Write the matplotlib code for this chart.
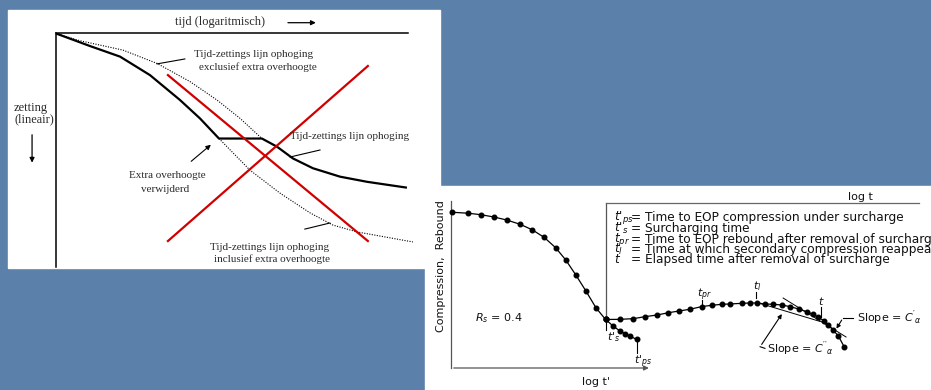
import matplotlib
matplotlib.use('Agg')
import matplotlib.pyplot as plt
from matplotlib.patches import Rectangle

plt.rcParams['mathtext.fontset'] = 'custom'
plt.rcParams['mathtext.it'] = 'DejaVu Sans:italic'
plt.rcParams['mathtext.rm'] = 'DejaVu Sans'

# ---------------- data: panel 1 (schematic, x = log time, y = settlement) -------------
ophoging_x = [0, 9.7, 18.2, 26.7, 35.2, 40.9, 46.3, 58.5, 62.8, 67.3, 73.0, 80.7, 88.4, 99.7]
ophoging_y = [0.2, 5.6, 10.1, 18.0, 28.6, 36.5, 45.1, 45.1, 48.6, 53.6, 57.8, 61.4, 63.6, 66.1]
exclusief_x = [0, 6.8, 19.0, 28.7, 38.1, 45.7, 52.3, 58.5]
exclusief_y = [0.2, 3.3, 7.3, 13.0, 20.8, 28.6, 36.5, 45.1]
inclusief_x = [46.3, 55.1, 63.6, 72.2, 78.7, 85.5, 101.4]
inclusief_y = [45.1, 58.6, 68.4, 76.9, 82.1, 85.0, 89.3]
red_a_x = [31.8, 88.6]
red_a_y = [18.0, 88.9]
red_b_x = [31.8, 88.6]
red_b_y = [88.9, 14.1]

# ---------------- data: panel 2 (x = log t', y = compression) -------------
main_x = [0.15, 3.6, 6.25, 8.96, 11.6, 14.4, 16.9, 19.4, 21.8, 23.9, 26.0, 28.1, 30.2, 32.2]
main_y = [5.6, 6.2, 7.1, 8.5, 10.3, 12.9, 16.2, 20.8, 27.1, 34.5, 43.6, 53.3, 63.5, 70.6]
surch_x = [32.2, 33.75, 35.2, 36.25, 37.3, 38.65]
surch_y = [70.6, 74.5, 77.6, 79.1, 80.6, 82.7]
rebound_x = [32.2, 35.2, 38.0, 40.4, 42.9, 45.3, 47.4, 49.8, 52.2, 54.3, 56.4, 58.1, 60.6,
             62.3, 63.7, 65.4, 67.1, 68.9, 70.6, 72.4, 74.1, 75.5, 76.5, 77.7, 78.6, 79.6,
             80.7, 81.9]
rebound_y = [70.6, 70.5, 70.1, 68.9, 67.9, 66.5, 65.5, 64.4, 62.8, 62.0, 61.4, 61.2, 60.8,
             60.6, 60.6, 61.2, 61.4, 61.8, 62.8, 64.2, 65.9, 67.5, 69.3, 71.3, 73.9, 77.0,
             80.6, 87.1]
slope1_x = [69.2, 82.3]
slope1_y = [57.6, 81.2]
slope2_x = [63.75, 76.9]
slope2_y = [60.3, 71.8]

legend_sym = [r"$t$'$_{ps}$", r"$t$'$_{s}$", r"$t_{pr}$", r"$t_{l}$", r"$t$"]
legend_txt = ["= Time to EOP compression under surcharge",
              "= Surcharging time",
              "= Time to EOP rebound after removal of surcharge",
              "= Time at which secondary compression reappears",
              "= Elapsed time after removal of surcharge"]
legend_y = [8.5, 15.6, 22.2, 28.0, 34.5]

W, H = 931, 390
fig = plt.figure(figsize=(W / 100, H / 100), dpi=100)

bg = fig.add_axes([0, 0, 1, 1])
bg.set_xlim(0, W)
bg.set_ylim(H, 0)
bg.axis('off')
bg.add_patch(Rectangle((0, 0), W, H, color='#5b80aa', zorder=0))
bg.add_patch(Rectangle((8, 10), 432, 258, color='white', zorder=1))
bg.add_patch(Rectangle((425, 186), 506, 204, color='white', zorder=2))


def fig_ax(l, t, r, b):
    a = fig.add_axes([l / W, 1 - b / H, (r - l) / W, (b - t) / H])
    a.set_facecolor('none')
    a.set_xlim(0, 100)
    a.set_ylim(100, 0)
    a.set_xticks([])
    a.set_yticks([])
    return a

# ---------------- panel 1 -------------
ax1 = fig_ax(56, 33, 408, 267)
for s in ['right', 'bottom']:
    ax1.spines[s].set_visible(False)
for s in ['left', 'top']:
    ax1.spines[s].set_linewidth(1.1)

ax1.plot(ophoging_x, ophoging_y, color='black', lw=1.6, solid_capstyle='butt',
         solid_joinstyle='round')
ax1.plot(exclusief_x, exclusief_y, color='black', lw=0.8, ls=(0, (1.0, 1.3)))
ax1.plot(inclusief_x, inclusief_y, color='black', lw=0.8, ls=(0, (1.0, 1.3)), clip_on=False)
ax1.plot(red_a_x, red_a_y, color='#d10000', lw=1.6)
ax1.plot(red_b_x, red_b_y, color='#d10000', lw=1.6)

serif = dict(family='Liberation Serif', fontsize=8.0, color='#2a2a2a')
big_serif = dict(serif, fontsize=8.9)
ax1.text(46.6, -4.8, 'tijd (logaritmisch)', ha='center', va='center', clip_on=False, **big_serif)
ax1.annotate('', xy=(74.6, -4.4), xytext=(65.1, -4.4), annotation_clip=False,
             arrowprops=dict(arrowstyle='-|>', color='black', lw=0.9, mutation_scale=7))
ax1.text(-11.9, 32.2, 'zetting', ha='left', va='center', clip_on=False, **big_serif)
ax1.text(-11.9, 36.8, '(lineair)', ha='left', va='center', clip_on=False, **big_serif)
ax1.annotate('', xy=(-6.8, 56.6), xytext=(-6.8, 42.3), annotation_clip=False,
             arrowprops=dict(arrowstyle='-|>', color='black', lw=0.9, mutation_scale=7))

ax1.text(56.1, 9.0, 'Tijd-zettings lijn ophoging', ha='center', va='center', **serif)
ax1.text(57.3, 14.5, 'exclusief extra overhoogte', ha='center', va='center', **serif)
ax1.plot([28.7, 36.6], [13.2, 11.1], color='black', lw=0.8)

ax1.text(83.3, 44.4, 'Tijd-zettings lijn ophoging', ha='center', va='center', **serif)
ax1.plot([66.5, 75.0], [53.0, 50.0], color='black', lw=0.8)

ax1.text(31.7, 61.1, 'Extra overhoogte', ha='center', va='center', **serif)
ax1.text(31.0, 66.7, 'verwijderd', ha='center', va='center', **serif)
ax1.annotate('', xy=(44.6, 47.0), xytext=(37.8, 55.6),
             arrowprops=dict(arrowstyle='-|>', color='black', lw=0.8, mutation_scale=7))

ax1.text(60.8, 91.5, 'Tijd-zettings lijn ophoging', ha='center', va='center', **serif)
ax1.text(61.4, 96.6, 'inclusief extra overhoogte', ha='center', va='center', **serif)
ax1.plot([70.7, 77.8], [83.8, 81.2], color='black', lw=0.8)

# ---------------- panel 2 -------------
ax2 = fig_ax(451, 203, 931, 368)
ax2.axis('off')
gray = '#555555'
ax2.plot([0, 0], [-1.5, 100], color=gray, lw=0.9, clip_on=False)
ax2.annotate('', xy=(41.8, 100), xytext=(0, 100), annotation_clip=False,
             arrowprops=dict(arrowstyle='-|>', color=gray, lw=0.9, mutation_scale=7))
ax2.plot([32.2, 32.2], [0, 70.6], color=gray, lw=0.9, clip_on=False)
ax2.plot([32.2, 97.5], [0, 0], color='#666666', lw=0.9, clip_on=False)

ax2.plot(main_x, main_y, '-o', color='black', lw=0.9, ms=3.3, clip_on=False)
ax2.plot(surch_x, surch_y, '-o', color='black', lw=0.9, ms=3.3, clip_on=False)
ax2.plot(rebound_x, rebound_y, '-o', color='black', lw=0.9, ms=3.3, clip_on=False)
ax2.plot(slope1_x, slope1_y, color='black', lw=0.7)
ax2.plot(slope2_x, slope2_y, color='black', lw=0.7)

sans = dict(family='DejaVu Sans', fontsize=8.0, color='#111111')
leg = dict(sans, fontsize=8.7)
for sym, txt, yy in zip(legend_sym, legend_txt, legend_y):
    ax2.text(33.9, yy, sym, ha='left', va='center', clip_on=False, **leg)
    ax2.text(37.5, yy, txt, ha='left', va='center', clip_on=False, **leg)

ax2.text(85.4, -3.8, 'log t', ha='center', va='center', clip_on=False, **sans)
ax2.text(30.2, 108.3, "log t'", ha='center', va='center', clip_on=False, **sans)
ax2.text(-2.1, 38.2, 'Compression,  Rebound', rotation=90, ha='center', va='center',
         clip_on=False, **sans)
ax2.text(5.0, 69.9, r'$R_s$ = 0.4', ha='left', va='center', **sans)

# tick marks and labels on curve
ax2.plot([32.2, 32.2], [72.1, 77.0], color='black', lw=0.8)
ax2.text(34.0, 81.0, r"$t$'$_s$", ha='center', va='center', **sans)
ax2.plot([38.7, 38.7], [84.2, 90.9], color='black', lw=0.8)
ax2.text(40.0, 96.4, r"$t$'$_{ps}$", ha='center', va='center', clip_on=False, **sans)
ax2.plot([52.2, 52.2], [58.8, 62.8], color='black', lw=0.8)
ax2.text(52.7, 55.6, r"$t_{pr}$", ha='center', va='center', **sans)
ax2.plot([63.5, 63.5], [53.8, 57.6], color='black', lw=0.8)
ax2.text(63.7, 50.6, r"$t_l$", ha='center', va='center', **sans)
ax2.plot([77.1, 77.1], [63.0, 69.1], color='black', lw=0.8)
ax2.text(77.1, 59.4, r"$t$", ha='center', va='center', **sans)

ax2.text(84.6, 69.5, r"Slope = $C'_\alpha$", ha='left', va='center', clip_on=False, **sans)
ax2.plot([83.8, 81.7], [69.5, 69.5], color='black', lw=0.8)
ax2.annotate('', xy=(80.0, 77.6), xytext=(81.7, 69.5),
             arrowprops=dict(arrowstyle='-|>', color='black', lw=0.8, mutation_scale=6))
ax2.text(65.9, 88.1, r"Slope = $C''_\alpha$", ha='left', va='center', **sans)
ax2.plot([65.4, 64.4], [88.1, 87.1], color='black', lw=0.8)
ax2.annotate('', xy=(69.25, 65.9), xytext=(64.4, 87.1),
             arrowprops=dict(arrowstyle='-|>', color='black', lw=0.8, mutation_scale=6))

fig.savefig('out.png', dpi=100)
